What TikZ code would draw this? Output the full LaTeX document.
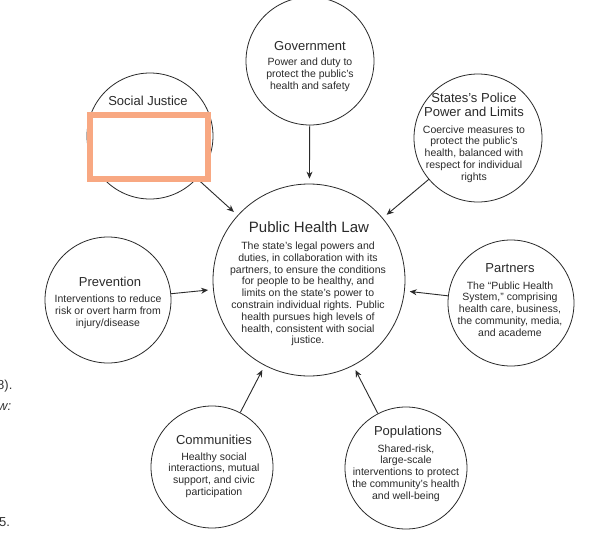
\documentclass[tikz,border=0pt]{standalone}
\usepackage{fontspec}
\setmainfont{Liberation Sans}
\usetikzlibrary{arrows.meta}
\definecolor{ink}{HTML}{2A2A2A}
\definecolor{salmon}{HTML}{F8A882}
\begin{document}
\begin{tikzpicture}[x=1pt,y=-1pt,
  ring/.style={circle,draw=ink,line width=0.8pt,inner sep=0pt,minimum size=#1},
  ttl/.style={font=\fontsize{13}{14.5}\selectfont,text=ink,align=center,inner sep=0pt},
  body/.style={font=\fontsize{10.5}{11.8}\selectfont,text=ink,align=center,inner sep=0pt},
  arr/.style={draw=ink,line width=0.9pt,-{Stealth[length=7pt,width=6pt]},shorten >=5pt},
  frag/.style={font=\fontsize{13}{15}\selectfont,text=black!80,anchor=west,inner sep=0pt},
]
\useasboundingbox (0,0) rectangle (592,541);
\fill[white] (0,0) rectangle (592,541);
% circles
\node[ring=128pt] (gov) at (310,61) {};
\node[ring=128pt] (pol) at (478,138) {};
\node[ring=126pt] (sj) at (150,136) {};
\node[ring=192pt] (law) at (309,280) {};
\node[ring=126pt] (prev) at (108,300) {};
\node[ring=126pt] (part) at (511,303) {};
\node[ring=122pt] (comm) at (212,467) {};
\node[ring=122pt] (pop) at (406,468) {};
% connectors
\draw[arr] (gov) -- (law);
\draw[arr] (pol) -- (law);
\draw[arr] (sj) -- (law);
\draw[arr] (prev) -- (law);
\draw[arr] (part) -- (law);
\draw[arr] (comm) -- (law);
\draw[arr] (pop) -- (law);
% highlight box
\node[draw=salmon,line width=6.5pt,fill=white,minimum width=118pt,minimum height=64pt,inner sep=0pt] (sjbox) at (149,147) {};
% texts
\node[ttl] (govt) at (310,46) {Government};
\node[body] (govb) at (310,75) {Power and duty to\\protect the public’s\\health and safety};
\node[ttl] (polt) at (474,105) {States’s Police\\Power and Limits};
\node[body] (polb) at (474,154) {Coercive measures to\\protect the public’s\\health, balanced with\\respect for individual\\rights};
\node[ttl] (sjt) at (148,101) {Social Justice};
\node[ttl,font=\fontsize{15}{17}\selectfont] (lawt) at (309,227) {Public Health Law};
\node[body] (lawb) at (308,294) {The state’s legal powers and\\duties, in collaboration with its\\partners, to ensure the conditions\\for people to be healthy, and\\limits on the state’s power to\\constrain individual rights. Public\\health pursues high levels of\\health, consistent with social\\justice.};
\node[ttl] (prevt) at (110,282) {Prevention};
\node[body] (prevb) at (108,312) {Interventions to reduce\\risk or overt harm from\\injury/disease};
\node[ttl] (partt) at (510,268) {Partners};
\node[body] (partb) at (510,309) {The “Public Health\\System,” comprising\\health care, business,\\the community, media,\\and academe};
\node[ttl] (commt) at (214,440) {Communities};
\node[body] (commb) at (214,475) {Healthy social\\interactions, mutual\\support, and civic\\participation};
\node[ttl] (popt) at (408,432) {Populations};
\node[body] (popb) at (406,473) {Shared-risk,\\large-scale\\interventions to protect\\the community’s health\\and well-being};
% page fragments at left edge
\node[frag] (f1) at (-3,386) {8).};
\node[frag,font=\fontsize{13}{15}\itshape] (f2) at (-2,407) {w:};
\node[frag] (f3) at (-1,522) {5.};
\end{tikzpicture}
\end{document}
